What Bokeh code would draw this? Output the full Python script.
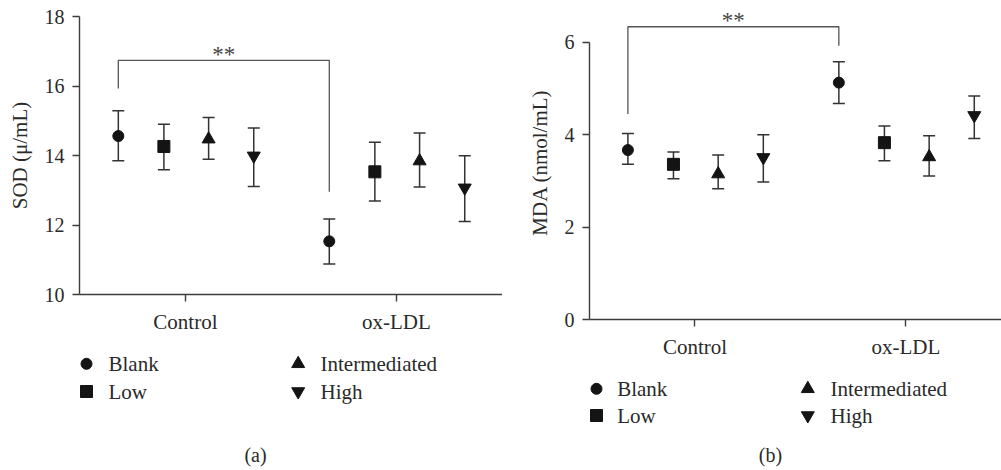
from bokeh.plotting import figure
from bokeh.layouts import row, column
from bokeh.models import Range1d, FixedTicker
from bokeh.core.properties import value
from bokeh.embed import file_html
from bokeh.resources import INLINE

# ---------------- data ----------------
groups = ["Control", "ox-LDL"]
group_pos = [0.5, 1.5]
doses = ["Blank", "Low", "Intermediated", "High"]
markers = ["circle", "square", "triangle", "inverted_triangle"]

# SOD (u/mL)
sod_control_mean = [14.56, 14.26, 14.47, 13.99]
sod_control_upper = [15.29, 14.90, 15.09, 14.79]
sod_control_lower = [13.85, 13.59, 13.89, 13.11]
sod_oxldl_mean = [11.53, 13.53, 13.84, 13.07]
sod_oxldl_upper = [12.17, 14.38, 14.65, 13.99]
sod_oxldl_lower = [10.88, 12.69, 13.09, 12.10]
sod_bracket = [15.93, 16.74, 12.96]   # left foot, top, right foot
sod_ticks = [10, 12, 14, 16, 18]

# MDA (nmol/mL)
mda_control_mean = [3.67, 3.36, 3.15, 3.51]
mda_control_upper = [4.03, 3.63, 3.56, 4.00]
mda_control_lower = [3.36, 3.05, 2.83, 2.98]
mda_oxldl_mean = [5.13, 3.83, 3.52, 4.42]
mda_oxldl_upper = [5.58, 4.19, 3.98, 4.84]
mda_oxldl_lower = [4.68, 3.44, 3.11, 3.92]
mda_bracket = [4.45, 6.34, 5.93]
mda_ticks = [0, 2, 4, 6]

# ---------------- style ----------------
SERIF = value("Liberation Serif")
AXIS_COLOR = "#3c3c3c"
BAR_COLOR = "#333333"
MARK_COLOR = "#141414"
DODGE = [-0.318, -0.102, 0.11, 0.324]
SIZES = [11, 12, 13, 13]


def main_panel(width, height, left, top, xr, yr, yticks, ybounds, ylabel,
               c_mean, c_up, c_lo, o_mean, o_up, o_lo, bracket):
    p = figure(width=width, height=height, x_range=Range1d(*xr), y_range=Range1d(*yr),
               output_backend="svg", toolbar_location=None,
               min_border_left=left, min_border_right=0, min_border_top=top,
               min_border_bottom=46,
               background_fill_color="white", border_fill_color="white")
    p.outline_line_color = None
    p.xgrid.visible = False
    p.ygrid.visible = False

    # axes
    p.xaxis.ticker = FixedTicker(ticks=group_pos)
    p.xaxis.major_label_overrides = {group_pos[i]: groups[i] for i in range(2)}
    p.yaxis.ticker = FixedTicker(ticks=yticks)
    p.yaxis.bounds = ybounds
    for ax in (p.xaxis[0], p.yaxis[0]):
        ax.axis_line_color = AXIS_COLOR
        ax.axis_line_width = 1.4
        ax.major_tick_line_color = AXIS_COLOR
        ax.major_tick_line_width = 1.4
        ax.major_tick_out = 7
        ax.major_tick_in = 0
        ax.minor_tick_line_color = None
        ax.major_label_text_font = "Liberation Serif"
        ax.major_label_text_color = "#2a2a2a"
    p.xaxis.major_label_text_font_size = "21px"
    p.yaxis.major_label_text_font_size = "20px"
    p.xaxis.major_label_standoff = 8
    p.yaxis.major_label_standoff = 8
    p.yaxis.axis_label = ylabel
    p.yaxis.axis_label_text_font = "Liberation Serif"
    p.yaxis.axis_label_text_font_style = "normal"
    p.yaxis.axis_label_text_font_size = "21px"
    p.yaxis.axis_label_text_color = "#2a2a2a"
    p.yaxis.axis_label_standoff = 10

    # points + error bars
    for gi, (mean, up, lo) in enumerate([(c_mean, c_up, c_lo), (o_mean, o_up, o_lo)]):
        xs = [group_pos[gi] + d for d in DODGE]
        p.segment(x0=xs, y0=lo, x1=xs, y1=up, line_color=BAR_COLOR, line_width=1.5)
        p.scatter(x=xs + xs, y=up + lo, marker="dash", size=12,
                  line_color=BAR_COLOR, line_width=1.5)
        for k in range(4):
            p.scatter(x=[xs[k]], y=[mean[k]], marker=markers[k], size=SIZES[k],
                      fill_color=MARK_COLOR, line_color=MARK_COLOR)

    # significance bracket between the two Blank groups
    xl = group_pos[0] + DODGE[0]
    xr_ = group_pos[1] + DODGE[0]
    p.line(x=[xl, xl, xr_, xr_], y=[bracket[0], bracket[1], bracket[1], bracket[2]],
           line_color="#555555", line_width=1.3)
    p.text(x=[(xl + xr_) / 2], y=[bracket[1]], text=["**"], text_font=SERIF,
           text_font_size="23px", text_align="center", text_baseline="alphabetic",
           y_offset=-6, text_color="#444444")
    return p


def legend_panel(width, height, left, mx, tx, ry, lab_xy, lab):
    # frame spans the same horizontal pixels as the panel above; x data = panel pixels
    q = figure(width=width, height=height, x_range=Range1d(left, width), y_range=Range1d(height, 0),
               output_backend="svg", toolbar_location=None,
               x_axis_location=None, y_axis_location=None,
               min_border_left=left, min_border_right=0, min_border_top=0, min_border_bottom=0,
               outline_line_color=None, background_fill_color="white",
               border_fill_color="white")
    q.xgrid.visible = False
    q.ygrid.visible = False
    for i, name in enumerate(doses):
        c, r = i // 2, i % 2
        q.scatter(x=[mx[c]], y=[ry[r]], marker=markers[i], size=SIZES[i],
                  fill_color=MARK_COLOR, line_color=MARK_COLOR)
        q.text(x=[tx[c]], y=[ry[r]], text=[name], text_font=SERIF, text_font_size="21px",
               text_baseline="middle", text_align="left", text_color="#2a2a2a")
    q.text(x=[lab_xy[0]], y=[lab_xy[1]], text=[lab], text_font=SERIF, text_font_size="20px",
           text_baseline="middle", text_align="center", text_color="#2a2a2a")
    return q


pa = main_panel(502, 340, 79, 16, (-0.002, 2.003), (10, 18), sod_ticks, (10, 18),
                "SOD (μ/mL)", sod_control_mean, sod_control_upper, sod_control_lower,
                sod_oxldl_mean, sod_oxldl_upper, sod_oxldl_lower, sod_bracket)
pb = main_panel(499, 365, 87, 5, (0.0, 1.953), (0, 6.80), mda_ticks, (0, 6),
                "MDA (nmol/mL)", mda_control_mean, mda_control_upper, mda_control_lower,
                mda_oxldl_mean, mda_oxldl_upper, mda_oxldl_lower, mda_bracket)

la = legend_panel(502, 130, 79, [86, 297.7], [108, 320], [23.3, 51], (255, 114), "(a)")
lb = legend_panel(499, 105, 87, [94, 305.3], [114.7, 328], [23.3, 50], (268, 89), "(b)")

layout = row(column(pa, la, spacing=0), column(pb, lb, spacing=0), spacing=0)
open("out.html", "w").write(file_html(layout, INLINE))
